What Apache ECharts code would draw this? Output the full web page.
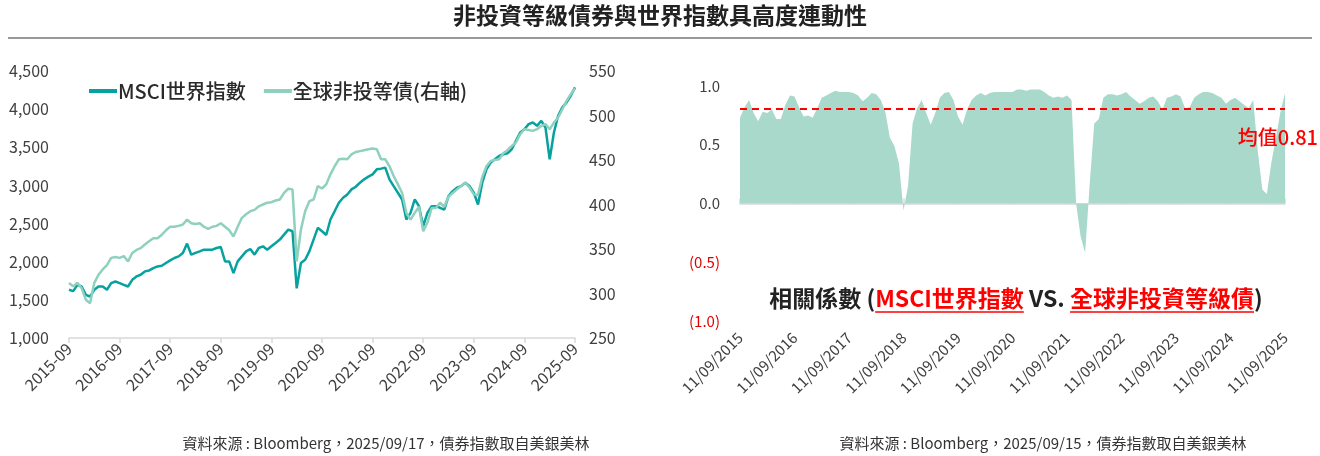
<!DOCTYPE html>
<html>
<head>
<meta charset="utf-8">
<script src="https://cdn.jsdelivr.net/npm/echarts@6/dist/echarts.min.js"></script>
<style>
html,body{margin:0;padding:0;background:#fff;}
#main{width:1320px;height:456px;}
</style>
</head>
<body>
<div id="main"></div>
<script>
var FONT = '"Noto Sans CJK TC","Noto Sans",sans-serif';

// x 軸刻度文字
var leftTickLabels = ['2015-09','2016-09','2017-09','2018-09','2019-09','2020-09','2021-09','2022-09','2023-09','2024-09','2025-09'];
var rightTickLabels = ['11/09/2015','11/09/2016','11/09/2017','11/09/2018','11/09/2019','11/09/2020','11/09/2021','11/09/2022','11/09/2023','11/09/2024','11/09/2025'];

// 月份 (2015-09 ~ 2025-09)
var months = [];
for (var i = 0; i <= 120; i++) {
	var y = 2015 + Math.floor((8 + i) / 12);
	var mo = (8 + i) % 12 + 1;
	months.push(y + '-' + (mo < 10 ? '0' : '') + mo);
}

// MSCI世界指數 (左軸)
var msci = [1632,1614,1697,1675,1566,1544,1632,1675,1675,1632,1719,1741,
	1719,1697,1675,1763,1807,1829,1873,1886,1917,1938,1947,1983,
	2017,2049,2070,2115,2237,2092,2115,2136,2158,2158,2158,2180,
	2193,2004,2004,1851,2004,2070,2136,2167,2092,2180,2202,2158,
	2202,2246,2290,2355,2421,2399,1650,1983,2026,2136,2290,2444,
	2400,2350,2553,2662,2773,2838,2882,2948,2983,3036,3080,3115,
	3145,3211,3220,3233,3080,2991,2904,2816,2553,2641,2816,2728,
	2465,2641,2728,2728,2707,2684,2860,2925,2970,2991,3036,2991,
	2904,2750,3036,3211,3299,3342,3386,3409,3422,3474,3584,3694,
	3737,3803,3825,3781,3847,3759,3342,3694,3913,4023,4089,4175,
	4286];

// 全球非投等債 (右軸)
var hy = [311.7,308,312,306,293,289,312,321,327,332,340,341,
	340,342,336,345.5,349,351,355,358.6,362,362,366,371,
	375,375,376,377.5,383,379,378,379,375,372.6,375,376,
	379,375,371,364,375,385,389,392.5,394,398,400,402,
	402.6,404.5,405.6,413,417.7,417,336,371.8,392.5,403.7,405.6,420.7,
	418,422.6,433.9,443,450.8,451.5,450.8,456.4,459,460,461,462,
	462.9,462,450.8,450.8,443,432,422.6,413,390.6,383,390.6,397.5,
	370,379.7,396,396,402,397.5,408.7,413,417,420.7,424.5,418.9,
	411.3,411,430.8,443,448.9,450,450.8,457.6,461,465.8,469.6,479,
	484.6,483.8,482.7,484.6,488.4,490.3,484.6,492,497.8,507,516.5,524,
	530.5];

// 相關係數
var corr = [0.73,0.82,0.88,0.77,0.70,0.78,0.77,0.80,0.72,0.72,0.84,0.92,
	0.91,0.82,0.74,0.75,0.73,0.81,0.90,0.92,0.94,0.96,0.95,0.95,
	0.95,0.94,0.92,0.87,0.90,0.94,0.93,0.88,0.78,0.56,0.49,0.34,
	-0.06,0.15,0.68,0.81,0.88,0.77,0.67,0.77,0.90,0.94,0.95,0.88,
	0.74,0.67,0.80,0.88,0.92,0.94,0.92,0.94,0.95,0.95,0.95,0.95,
	0.95,0.97,0.97,0.96,0.97,0.97,0.97,0.95,0.92,0.90,0.91,0.90,
	0.92,0.88,0.00,-0.28,-0.42,0.17,0.68,0.72,0.90,0.93,0.93,0.92,
	0.93,0.95,0.91,0.88,0.85,0.87,0.90,0.91,0.87,0.80,0.90,0.91,
	0.93,0.91,0.81,0.82,0.90,0.93,0.95,0.95,0.94,0.92,0.90,0.85,
	0.88,0.90,0.87,0.84,0.81,0.88,0.45,0.12,0.08,0.35,0.56,0.78,
	0.94];
var corrMean = 0.81;

var dark = '#07a29f';
var light = '#8fd0be';
var labelColor = '#404040';

// 下方說明文字：量測寬度以畫底線
var capFont = 'bold 23px ' + FONT;
var capParts = ['相關係數 (', 'MSCI世界指數', ' VS. ', '全球非投資等級債', ')'];
var ctx = document.createElement('canvas').getContext('2d');
ctx.font = capFont;
var capW = capParts.map(function (t) { return ctx.measureText(t).width; });
var capTotal = capW.reduce(function (a, b) { return a + b; }, 0);
var capCx = 1016, capY = 298;
var capX0 = capCx - capTotal / 2;
var u1 = capX0 + capW[0], u2 = u1 + capW[1];
var u3 = u2 + capW[2], u4 = u3 + capW[3];

var chart = echarts.init(document.getElementById('main'));

var option = {
	animation: false,
	textStyle: {fontFamily: FONT},
	legend: {
		left: 84,
		top: 76,
		icon: 'rect',
		itemWidth: 28,
		itemHeight: 4,
		itemGap: 18,
		textStyle: {fontFamily: FONT, fontSize: 20, fontWeight: 500, color: '#2a2a2a', padding: [0, 0, 0, -4]},
		data: ['MSCI世界指數', '全球非投等債(右軸)']
	},
	grid: [
		{left: 69, right: 745, top: 71, bottom: 118},
		{left: 740, right: 35, top: 86, bottom: 135}
	],
	xAxis: [
		{
			gridIndex: 0, type: 'category', data: months, boundaryGap: false,
			axisLine: {lineStyle: {color: '#d9d9d9', width: 1.5}},
			axisTick: {interval: 11, length: 5, lineStyle: {color: '#d9d9d9', width: 1.5}},
			axisLabel: {
				interval: 11, rotate: 45, color: labelColor, fontSize: 16, margin: 8,
				formatter: function (v, idx) { return leftTickLabels[idx / 12]; }
			}
		},
		{
			gridIndex: 1, type: 'category', data: months, boundaryGap: false,
			axisLine: {show: false, onZero: false},
			axisTick: {show: false},
			axisLabel: {
				interval: 11, rotate: 45, color: labelColor, fontSize: 15, margin: 14,
				formatter: function (v, idx) { return rightTickLabels[idx / 12]; }
			}
		},
		{
			gridIndex: 1, type: 'category', data: months, boundaryGap: false,
			axisLine: {onZero: true, lineStyle: {color: '#d9d9d9', width: 1.5}},
			axisTick: {interval: 11, length: 5, lineStyle: {color: '#d9d9d9', width: 1.5}},
			axisLabel: {show: false}
		}
	],
	yAxis: [
		{
			gridIndex: 0, type: 'value', min: 1000, max: 4500, interval: 500,
			splitLine: {show: false}, axisLine: {show: false}, axisTick: {show: false},
			axisLabel: {
				color: labelColor, fontSize: 16, margin: 20,
				formatter: function (v) { return echarts.format.addCommas(v); }
			}
		},
		{
			gridIndex: 0, type: 'value', min: 250, max: 550, interval: 50, position: 'right',
			splitLine: {show: false}, axisLine: {show: false}, axisTick: {show: false},
			axisLabel: {color: labelColor, fontSize: 16, margin: 14}
		},
		{
			gridIndex: 1, type: 'value', min: -1, max: 1, interval: 0.5,
			splitLine: {show: false}, axisLine: {show: false}, axisTick: {show: false},
			axisLabel: {
				fontSize: 15, margin: 20,
				color: function (v) { return v < 0 ? '#e00000' : labelColor; },
				formatter: function (v) {
					return v < 0 ? '(' + Math.abs(v).toFixed(1) + ')' : v.toFixed(1);
				}
			}
		}
	],
	series: [
		{
			name: 'MSCI世界指數', type: 'line', xAxisIndex: 0, yAxisIndex: 0,
			data: msci, showSymbol: false, symbol: 'none',
			lineStyle: {color: dark, width: 2.5}, itemStyle: {color: dark}
		},
		{
			name: '全球非投等債(右軸)', type: 'line', xAxisIndex: 0, yAxisIndex: 1,
			data: hy, showSymbol: false, symbol: 'none',
			lineStyle: {color: light, width: 2.5}, itemStyle: {color: light}
		},
		{
			name: '相關係數', type: 'line', xAxisIndex: 1, yAxisIndex: 2,
			data: corr, showSymbol: false, symbol: 'none',
			lineStyle: {width: 0}, itemStyle: {color: '#a8d9cb'},
			areaStyle: {color: '#a8d9cb', opacity: 1},
			markLine: {
				silent: true, symbol: 'none', label: {show: false},
				lineStyle: {color: '#ff0000', type: [7, 5], width: 2},
				data: [{yAxis: corrMean}]
			}
		}
	],
	graphic: [
		{
			type: 'text', left: 'center', top: 4, z: 100,
			style: {text: '非投資等級債券與世界指數具高度連動性', font: 'bold 23px ' + FONT, fill: '#222'}
		},
		{
			type: 'line', z: 100, shape: {x1: 8, y1: 38, x2: 1312, y2: 38},
			style: {stroke: '#333', lineWidth: 1}
		},
		{
			type: 'text', x: 1318, y: 137, z: 100,
			style: {text: '均值' + corrMean, font: '500 20px ' + FONT, fill: '#ff0000', align: 'right', verticalAlign: 'middle'}
		},
		{
			type: 'text', x: capX0, y: capY, z: 100,
			style: {
				text: '{a|' + capParts[0] + '}{r|' + capParts[1] + '}{a|' + capParts[2] + '}{r|' + capParts[3] + '}{a|' + capParts[4] + '}',
				align: 'left', verticalAlign: 'middle',
				rich: {
					a: {font: capFont, fill: '#222'},
					r: {font: capFont, fill: '#ff0000'}
				}
			}
		},
		{
			type: 'line', z: 100, shape: {x1: u1, y1: capY + 14, x2: u2, y2: capY + 14},
			style: {stroke: '#ff0000', lineWidth: 1.5}
		},
		{
			type: 'line', z: 100, shape: {x1: u3, y1: capY + 14, x2: u4, y2: capY + 14},
			style: {stroke: '#ff0000', lineWidth: 1.5}
		},
		{
			type: 'text', x: 386, y: 443, z: 100,
			style: {text: '資料來源 : Bloomberg，2025/09/17，債券指數取自美銀美林', font: '15px ' + FONT, fill: '#333', align: 'center', verticalAlign: 'middle'}
		},
		{
			type: 'text', x: 1043, y: 443, z: 100,
			style: {text: '資料來源 : Bloomberg，2025/09/15，債券指數取自美銀美林', font: '15px ' + FONT, fill: '#333', align: 'center', verticalAlign: 'middle'}
		}
	]
};
chart.setOption(option);
</script>
</body>
</html>
